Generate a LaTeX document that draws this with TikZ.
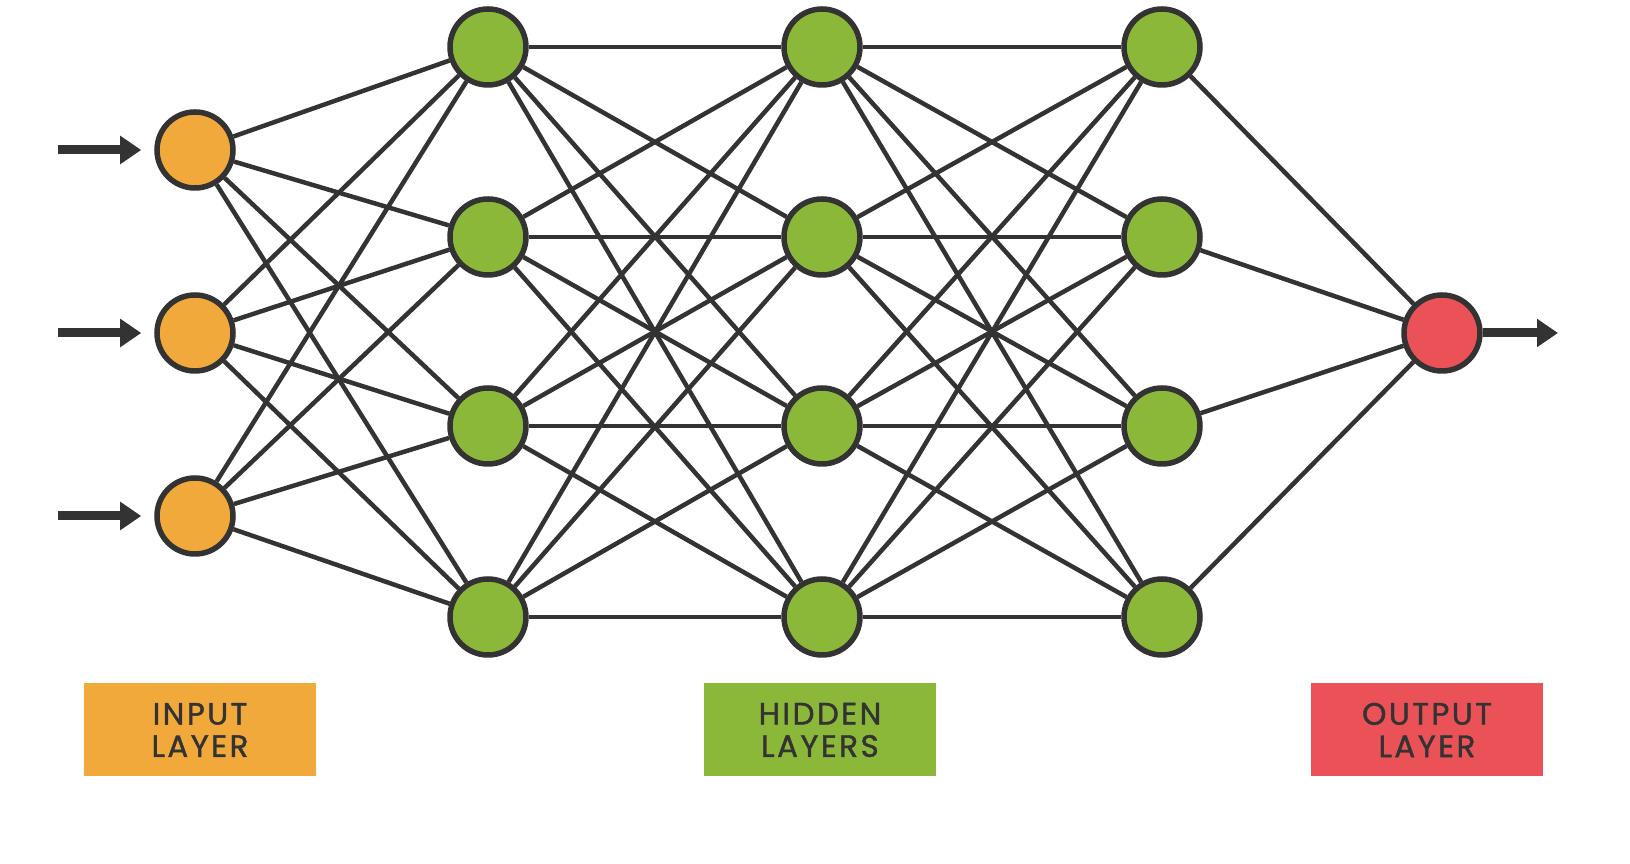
\documentclass[tikz,border=0pt]{standalone}
\usepackage{fontspec}
\newfontfamily\labelfont[LetterSpace=8,FakeBold=1.3]{Poppins}
\usetikzlibrary{arrows.meta,positioning,backgrounds}
\definecolor{inorange}{HTML}{F2A93B}
\definecolor{hidgreen}{HTML}{8CB83A}
\definecolor{outred}{HTML}{EB5257}
\definecolor{darkline}{HTML}{333333}

\begin{document}
\begin{tikzpicture}[neuron/.style={circle,draw=darkline,line width=0.055cm,minimum size=0.76cm,inner sep=0pt},
  link/.style={draw=darkline,line width=0.045cm},
  feed/.style={draw=darkline,line width=0.09cm,-{Triangle[length=0.21cm,width=0.27cm]}},
  legend/.style={rectangle,minimum width=2.32cm,minimum height=0.93cm,inner sep=0pt,text=darkline,align=center,
    font=\labelfont\fontsize{8.8}{9.2}\selectfont}]

        \useasboundingbox (0,0) rectangle (16.30,-8.64);

        % input layer
        \foreach \i/\y in {1/-1.50,2/-3.33,3/-5.16}
          \node[neuron,fill=inorange] (I\i) at (1.95,\y) {};

        % hidden layers
        \foreach \l/\x in {A/4.88,B/8.22,C/11.62}
          \foreach \i/\y in {1/-0.47,2/-2.37,3/-4.26,4/-6.17}
            \node[neuron,fill=hidgreen] (\l\i) at (\x,\y) {};

        % output layer
        \node[neuron,fill=outred] (O) at (14.42,-3.33) {};

        \begin{scope}[on background layer]
          \foreach \i in {1,2,3}
            \foreach \j in {1,...,4}
              \draw[link] (I\i) -- (A\j);
          \foreach \i in {1,...,4}
            \foreach \j in {1,...,4}
              {\draw[link] (A\i) -- (B\j);
               \draw[link] (B\i) -- (C\j);}
          \foreach \i in {1,...,4}
            \draw[link] (C\i) -- (O);
        \end{scope}

        \foreach \i/\y in {1/-1.50,2/-3.33,3/-5.16}
          {\coordinate (s\i) at (0.58,\y);
           \draw[feed,shorten >=0.13cm] (s\i) -- (I\i);}
        \coordinate (t) at (15.58,-3.33);
        \draw[feed] (O) -- (t);

        \node[legend,fill=inorange] (inlabel) at (2.00,-7.30) {INPUT\\LAYER};
        \node[legend,fill=hidgreen] (hidlabel) at (8.20,-7.30) {HIDDEN\\LAYERS};
        \node[legend,fill=outred] (outlabel) at (14.27,-7.30) {OUTPUT\\LAYER};
      \end{tikzpicture}
\end{document}
